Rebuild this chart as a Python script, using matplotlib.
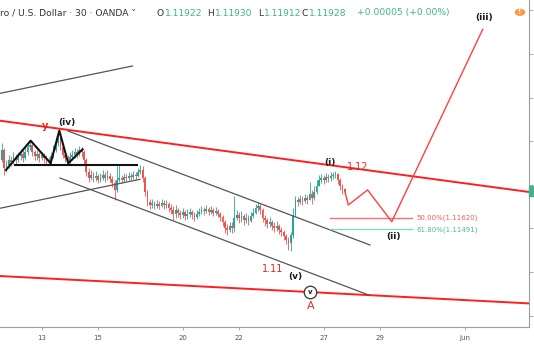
import matplotlib
matplotlib.use("Agg")
import matplotlib.pyplot as plt
import numpy as np
from matplotlib.patches import Rectangle

# ---------------- data (EUR/USD, 2-hour candles) -------------
first_open = 1.1220
close = [
    1.1229, 1.1240, 1.1219, 1.1223, 1.1229, 1.1226, 1.1232, 1.1229, 1.1233, 1.1235,
    1.1231, 1.1238, 1.1243, 1.1246, 1.1238, 1.1233, 1.1235, 1.1231, 1.1234, 1.1231,
    1.1229, 1.1226, 1.1233, 1.1240, 1.1248, 1.1256, 1.1243, 1.1234, 1.1231, 1.1226,
    1.1232, 1.1234, 1.1238, 1.1235, 1.1240, 1.1238, 1.1229, 1.1215, 1.1208, 1.1211,
    1.1208, 1.1210, 1.1206, 1.1208, 1.1211, 1.1208, 1.1210, 1.1207, 1.1202, 1.1194,
    1.1206, 1.1208, 1.1206, 1.1209, 1.1208, 1.1210, 1.1209, 1.1211, 1.1210, 1.1215,
    1.1217, 1.1208, 1.1192, 1.1180, 1.1177, 1.1179, 1.1176, 1.1178, 1.1176, 1.1179,
    1.1177, 1.1178, 1.1173, 1.1171, 1.1167, 1.1171, 1.1168, 1.1165, 1.1169, 1.1164,
    1.1167, 1.1169, 1.1165, 1.1163, 1.1167, 1.1169, 1.1171, 1.1170, 1.1172, 1.1169,
    1.1171, 1.1168, 1.1170, 1.1167, 1.1163, 1.1157, 1.1151, 1.1148, 1.1153, 1.1151,
    1.1162, 1.1165, 1.1162, 1.1164, 1.1160, 1.1162, 1.1159, 1.1164, 1.1168, 1.1173,
    1.1176, 1.1171, 1.1162, 1.1160, 1.1155, 1.1157, 1.1153, 1.1151, 1.1153, 1.1148,
    1.1146, 1.1141, 1.1137, 1.1133, 1.1143, 1.1165, 1.1183, 1.1180, 1.1184, 1.1182,
    1.1185, 1.1183, 1.1190, 1.1185, 1.1192, 1.1199, 1.1206, 1.1208, 1.1206, 1.1209,
    1.1208, 1.1210, 1.1211, 1.1212, 1.1206, 1.1199, 1.1195, 1.1193,
]
high = [
    1.1246, 1.1248, 1.1242, 1.1229, 1.1234, 1.1233, 1.1238, 1.1235, 1.1238, 1.1241,
    1.1240, 1.1242, 1.1247, 1.1250, 1.1247, 1.1240, 1.1240, 1.1238, 1.1238, 1.1237,
    1.1234, 1.1232, 1.1238, 1.1246, 1.1254, 1.1262, 1.1258, 1.1246, 1.1238, 1.1234,
    1.1238, 1.1240, 1.1242, 1.1241, 1.1245, 1.1243, 1.1240, 1.1231, 1.1219, 1.1217,
    1.1215, 1.1216, 1.1212, 1.1214, 1.1217, 1.1215, 1.1217, 1.1214, 1.1210, 1.1206,
    1.1222, 1.1223, 1.1211, 1.1214, 1.1212, 1.1215, 1.1214, 1.1216, 1.1215, 1.1219,
    1.1223, 1.1222, 1.1210, 1.1194, 1.1184, 1.1184, 1.1182, 1.1183, 1.1182, 1.1184,
    1.1183, 1.1183, 1.1180, 1.1178, 1.1176, 1.1177, 1.1173, 1.1171, 1.1173, 1.1171,
    1.1172, 1.1173, 1.1171, 1.1169, 1.1171, 1.1173, 1.1176, 1.1175, 1.1177, 1.1175,
    1.1176, 1.1173, 1.1175, 1.1172, 1.1169, 1.1165, 1.1160, 1.1155, 1.1157, 1.1157,
    1.1187, 1.1171, 1.1169, 1.1170, 1.1167, 1.1168, 1.1165, 1.1169, 1.1173, 1.1178,
    1.1180, 1.1178, 1.1173, 1.1165, 1.1162, 1.1163, 1.1160, 1.1157, 1.1159, 1.1155,
    1.1152, 1.1148, 1.1144, 1.1140, 1.1146, 1.1173, 1.1187, 1.1186, 1.1188, 1.1187,
    1.1190, 1.1188, 1.1203, 1.1194, 1.1199, 1.1206, 1.1211, 1.1212, 1.1211, 1.1214,
    1.1212, 1.1215, 1.1215, 1.1216, 1.1214, 1.1208, 1.1201, 1.1197,
]
low = [
    1.1215, 1.1226, 1.1211, 1.1215, 1.1219, 1.1222, 1.1224, 1.1223, 1.1226, 1.1229,
    1.1226, 1.1229, 1.1234, 1.1240, 1.1233, 1.1229, 1.1229, 1.1226, 1.1229, 1.1225,
    1.1224, 1.1223, 1.1224, 1.1231, 1.1238, 1.1245, 1.1240, 1.1231, 1.1226, 1.1223,
    1.1224, 1.1229, 1.1231, 1.1231, 1.1233, 1.1232, 1.1223, 1.1210, 1.1203, 1.1206,
    1.1203, 1.1204, 1.1202, 1.1203, 1.1206, 1.1203, 1.1206, 1.1203, 1.1198, 1.1183,
    1.1192, 1.1203, 1.1202, 1.1203, 1.1204, 1.1206, 1.1206, 1.1207, 1.1207, 1.1209,
    1.1212, 1.1203, 1.1187, 1.1176, 1.1172, 1.1173, 1.1172, 1.1173, 1.1172, 1.1175,
    1.1172, 1.1173, 1.1169, 1.1167, 1.1160, 1.1162, 1.1163, 1.1161, 1.1162, 1.1160,
    1.1161, 1.1163, 1.1161, 1.1159, 1.1161, 1.1164, 1.1167, 1.1165, 1.1168, 1.1165,
    1.1167, 1.1164, 1.1165, 1.1163, 1.1159, 1.1153, 1.1145, 1.1143, 1.1146, 1.1145,
    1.1146, 1.1160, 1.1156, 1.1157, 1.1154, 1.1156, 1.1154, 1.1157, 1.1162, 1.1167,
    1.1170, 1.1167, 1.1157, 1.1153, 1.1151, 1.1152, 1.1148, 1.1146, 1.1147, 1.1144,
    1.1141, 1.1137, 1.1132, 1.1125, 1.1124, 1.1139, 1.1164, 1.1176, 1.1178, 1.1177,
    1.1179, 1.1178, 1.1183, 1.1178, 1.1183, 1.1190, 1.1199, 1.1202, 1.1201, 1.1203,
    1.1203, 1.1204, 1.1207, 1.1208, 1.1201, 1.1194, 1.1190, 1.1190,
]

# x-axis (bar index of the day start) and labels
day_ticks = [18, 42, 78, 102, 138, 162, 198]
day_labels = ["13", "15", "20", "22", "27", "29", "Jun"]
price_ticks = [1.105, 1.110, 1.115, 1.120, 1.125, 1.130, 1.135, 1.140]

# header values
symbol_text = "ro / U.S. Dollar \u00b7 30 \u00b7 OANDA"
ohlc_labels = ["O", "H", "L", "C"]
ohlc_values = ["1.11922", "1.11930", "1.11912", "1.11928"]
change_text = "+0.00005 (+0.00%)"
last_price = 1.11928

# drawings: (bar index, price) points
red_upper = ([0.26, 225.4], [1.12736, 1.11919])
red_lower = ([0.26, 225.4], [1.10955, 1.10641])
gray_top = ([0.26, 56.7], [1.13050, 1.13364])
gray_left = ([0.26, 59.8], [1.11732, 1.12064])
chan_upper = ([29.2, 157.7], [1.12618, 1.11311])
chan_lower = ([25.8, 157.7], [1.12079, 1.10732])
zigzag = ([2.8, 13.3, 21.8, 25.5, 29.3, 35.4],
          [1.12171, 1.12507, 1.12248, 1.12622, 1.12248, 1.12408])
neckline = ([6.6, 58.4], [1.12228, 1.12228])
forecast = ([147, 148.5, 156.7, 167.0, 205.7],
            [1.11928, 1.11770, 1.11942, 1.11578, 1.13784])
fib_span = [140.7, 175.5]
fib50 = 1.11620
fib618 = 1.11491

# --------------------------------------------------------------------------------
W, H = 534, 345
fig = plt.figure(figsize=(W / 100, H / 100), dpi=100)
fig.patch.set_facecolor("white")
ax = fig.add_axes([0, 18 / H, 529 / W, 327 / H])
ax.set_facecolor("white")
ax.set_xlim(0.255, 225.4)
ax.set_ylim(1.103704, 1.141204)

c = np.array(close)
h = np.array(high)
l = np.array(low)
o = np.array([first_open] + close[:-1])
x = np.arange(len(c))
up = c >= o
UP, DN = "#26a69a", "#ef5350"
cols = np.where(up, UP, DN)
hh = np.maximum(h, np.maximum(o, c))
ll = np.minimum(l, np.minimum(o, c))
ax.vlines(x, ll, hh, colors=cols, lw=0.6, zorder=2)
ax.bar(x, np.maximum(np.abs(c - o), 0.00004), bottom=np.minimum(o, c),
       width=0.75, color=cols, lw=0, zorder=2)

# drawings
RED = "#ff1f1f"
ax.plot(*red_upper, color=RED, lw=1.4, zorder=3)
ax.plot(*red_lower, color=RED, lw=1.4, zorder=3)
for ln in (gray_top, gray_left, chan_upper, chan_lower):
    ax.plot(*ln, color="#555555", lw=0.9, zorder=3)
ax.plot(*zigzag, color="#111111", lw=1.5, zorder=4)
ax.plot(*neckline, color="#111111", lw=1.5, zorder=4)
ax.plot(*forecast, color="#ff4040", lw=1.0, zorder=4)
ax.plot(fib_span, [fib50, fib50], color="#ff6e6e", lw=1.0, zorder=3)
ax.plot(fib_span, [fib618, fib618], color="#86d9bb", lw=1.0, zorder=3)
ax.text(fib_span[1] + 2.1, fib50, "50.00%(1.11620)", color="#f25c5c",
        fontsize=5, va="center", ha="left")
ax.text(fib_span[1] + 2.1, fib618, "61.80%(1.11491)", color="#4cbf8f",
        fontsize=5, va="center", ha="left")

bold = dict(fontsize=6.5, fontweight="bold", color="#1a1a1a", ha="center", va="center")
ax.text(140.7, 1.12255, "(i)", **bold)
ax.text(167.6, 1.11406, "(ii)", **bold)
ax.text(206.4, 1.13922, "(iii)", **bold)
ax.text(28.6, 1.12713, "(iv)", **bold)
ax.text(125.8, 1.10947, "(v)", **bold)
ax.text(19.4, 1.12675, "y", fontsize=7, fontweight="bold", color="#e02828",
        ha="center", va="center")
ax.text(152.6, 1.12209, "1.12", fontsize=7, color="#e02828", ha="center", va="center")
ax.text(116.1, 1.11036, "1.11", fontsize=7, color="#e02828", ha="center", va="center")
ax.plot([132.2], [1.10768], "o", ms=9, mfc="white", mec="#333333", mew=0.9, zorder=5)
ax.text(132.2, 1.10775, "v", fontsize=5, fontweight="bold", color="#222222",
        ha="center", va="center", zorder=6)
ax.text(132.5, 1.10610, "A", fontsize=8, color="#e02828", ha="center", va="center")

# axes styling
for s in ("top", "left"):
    ax.spines[s].set_visible(False)
for s in ("bottom", "right"):
    ax.spines[s].set_color("#9a9da6")
    ax.spines[s].set_linewidth(0.8)
ax.yaxis.tick_right()
ax.set_yticks(price_ticks)
ax.set_yticklabels([""] * len(price_ticks))
ax.tick_params(axis="y", length=3, color="#9a9da6", width=0.6)
ax.set_xticks(day_ticks)
ax.set_xticklabels(day_labels)
ax.tick_params(axis="x", length=2.5, color="#9a9da6", width=0.6,
               labelsize=5, labelcolor="#555555", pad=3)

# last-price marker on the price scale
ax.add_patch(Rectangle((1.0, last_price - 0.00055), 0.03, 0.0011,
                       transform=ax.get_yaxis_transform(), color="#3fb28f",
                       clip_on=False, zorder=6))

# header
def fx(px):
    return px / W
def fy(py):
    return 1 - py / H
HDR = 6.6
fig.text(fx(0), fy(13), symbol_text + " \u02c5", fontsize=HDR, color="#333333",
         va="center", ha="left")
hx = [156.7, 207.0, 257.7, 301.7]
for xp, lab, val in zip(hx, ohlc_labels, ohlc_values):
    t = fig.text(fx(xp), fy(13), lab, fontsize=HDR, color="#333333",
                 va="center", ha="left")
    fig.text(0, 0, val, fontsize=HDR, color="#3eb489", va="center", ha="left")
    fig.texts[-1].remove()
    ann = plt.annotate(val, xy=(1.0, 0.5), xycoords=t, xytext=(0.6, 0),
                       textcoords="offset points", fontsize=HDR, color="#3eb489",
                       va="center", ha="left", annotation_clip=False)
fig.text(fx(356.7), fy(13), change_text, fontsize=HDR, color="#3eb489",
         va="center", ha="left")

# alert icon
fig.patches.append(plt.Circle((fx(520), fy(12.3)), 4.5 / W, transform=fig.transFigure,
                              color="#ff9a3c", zorder=10))
fig.text(fx(520), fy(12.5), "!", fontsize=5, color="white", fontweight="bold",
         ha="center", va="center", zorder=11)

fig.savefig("out.png", dpi=100)
